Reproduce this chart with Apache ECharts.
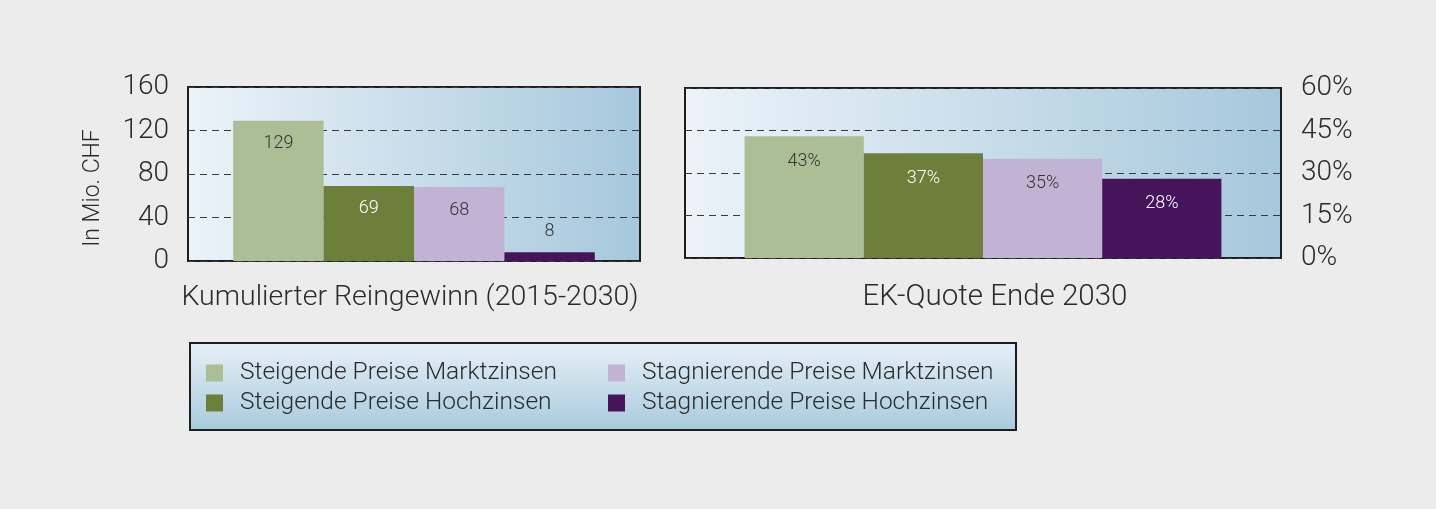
<!DOCTYPE html>
<html>
<head>
<meta charset="utf-8">
<script src="https://cdn.jsdelivr.net/npm/echarts@6/dist/echarts.min.js"></script>
<style>
  html, body { margin: 0; padding: 0; background: #ececec; }
  #chart { width: 1436px; height: 509px; }
</style>
</head>
<body>
<div id="chart"></div>
<script>
const seriesNames = [
  'Steigende Preise Marktzinsen',
  'Steigende Preise Hochzinsen',
  'Stagnierende Preise Marktzinsen',
  'Stagnierende Preise Hochzinsen'
];
const panelTitles = ['Kumulierter Reingewinn (2015-2030)', 'EK-Quote Ende 2030'];
const reingewinn = [129, 69, 68, 8];      // Mio. CHF
const ekQuote = [43, 37, 35, 28];         // %
const leftAxisTicks = { min: 0, max: 160, interval: 40 };
const rightAxisTicks = { min: 0, max: 60, interval: 15 };
const yAxisTitle = 'In Mio. CHF';

const colors = ['#abbe95', '#6c803c', '#c2b3d4', '#46145a'];
const labelColors = ['#333333', '#ffffff', '#333333', '#ffffff'];
const FONT = 'Roboto, "Liberation Sans", sans-serif';

const plotBg = new echarts.graphic.LinearGradient(0, 0, 1, 0, [
  { offset: 0, color: '#ecf3f9' },
  { offset: 1, color: '#a6c8dc' }
]);

function gridCfg(left, top, width, height) {
  return {
    left, top, width, height,
    show: true,
    backgroundColor: plotBg,
    borderColor: '#1e1e1e',
    borderWidth: 2,
    containLabel: false
  };
}

function yAxisCfg(ticks, gridIndex, position, fmt, margin) {
  return {
    type: 'value', gridIndex, position,
    min: ticks.min, max: ticks.max, interval: ticks.interval,
    axisLine: { show: false }, axisTick: { show: false },
    axisLabel: {
      fontSize: 28, color: '#2b2b2b', fontFamily: FONT, fontWeight: 300,
      margin, formatter: fmt
    },
    splitLine: { show: true, lineStyle: { color: '#3a3a3a', width: 1, type: [7, 5] } }
  };
}

function xAxisCfg(gridIndex) {
  return {
    type: 'category', gridIndex, data: [panelTitles[gridIndex]],
    axisLine: { show: false }, axisTick: { show: false }, axisLabel: { show: false },
    splitLine: { show: false }
  };
}

const series = [];
seriesNames.forEach((name, i) => {
  const maxL = leftAxisTicks.max;
  const v = reingewinn[i];
  const small = v < maxL * 0.12;
  series.push({
    name, type: 'bar', xAxisIndex: 0, yAxisIndex: 0,
    barGap: '0%', barCategoryGap: '20%',
    itemStyle: { color: colors[i] },
    label: {
      show: true,
      position: small ? 'top' : 'insideTop',
      distance: small ? 12 : 14,
      fontSize: 18, fontFamily: FONT, fontWeight: 300,
      color: small ? '#333333' : labelColors[i]
    },
    data: [v]
  });
});
seriesNames.forEach((name, i) => {
  series.push({
    name, type: 'bar', xAxisIndex: 1, yAxisIndex: 1,
    barGap: '0%', barCategoryGap: '20%',
    itemStyle: { color: colors[i] },
    label: {
      show: true, position: 'insideTop', distance: 16,
      fontSize: 18, fontFamily: FONT, fontWeight: 300,
      color: labelColors[i], formatter: '{c}%'
    },
    data: [ekQuote[i]]
  });
});

const legendCommon = {
  orient: 'vertical', top: 360, padding: 0, itemWidth: 17, itemHeight: 17, itemGap: 4,
  icon: 'rect', selectedMode: false,
  textStyle: { fontSize: 24.5, lineHeight: 26, color: '#2b2b2b', fontFamily: FONT, fontWeight: 300, padding: [0, 0, 0, 12] }
};

const chart = echarts.init(document.getElementById('chart'), null, { renderer: 'canvas' });
chart.setOption({
  backgroundColor: '#ececec',
  animation: false,
  grid: [gridCfg(188, 87, 452, 174), gridCfg(685, 88, 596, 170)],
  xAxis: [xAxisCfg(0), xAxisCfg(1)],
  yAxis: [
    yAxisCfg(leftAxisTicks, 0, 'left', '{value}', 19),
    yAxisCfg(rightAxisTicks, 1, 'right', '{value}%', 20)
  ],
  legend: [
    Object.assign({ left: 206, data: [seriesNames[0], seriesNames[1]] }, legendCommon),
    Object.assign({ left: 608, data: [seriesNames[2], seriesNames[3]] }, legendCommon)
  ],
  graphic: [
    {
      type: 'rect', z: 0, left: 189, top: 342,
      shape: { width: 826, height: 87 },
      style: {
        fill: new echarts.graphic.LinearGradient(0, 0, 0, 1, [
          { offset: 0, color: '#e7f0f7' },
          { offset: 1, color: '#a8cadd' }
        ]),
        stroke: '#1e1e1e', lineWidth: 2
      }
    },
    {
      type: 'text', x: 93, y: 188, rotation: Math.PI / 2,
      style: { text: yAxisTitle, fontSize: 23, fill: '#2b2b2b', fontFamily: FONT, fontWeight: 300,
               align: 'center', verticalAlign: 'middle' }
    },
    {
      type: 'text', x: 410, y: 298,
      style: { text: panelTitles[0], fontSize: 28.5, fill: '#2b2b2b', fontFamily: FONT, fontWeight: 300,
               align: 'center', verticalAlign: 'middle' }
    },
    {
      type: 'text', x: 995, y: 298,
      style: { text: panelTitles[1], fontSize: 29.5, fill: '#2b2b2b', fontFamily: FONT, fontWeight: 300,
               align: 'center', verticalAlign: 'middle' }
    }
  ],
  series
});
</script>
</body>
</html>
